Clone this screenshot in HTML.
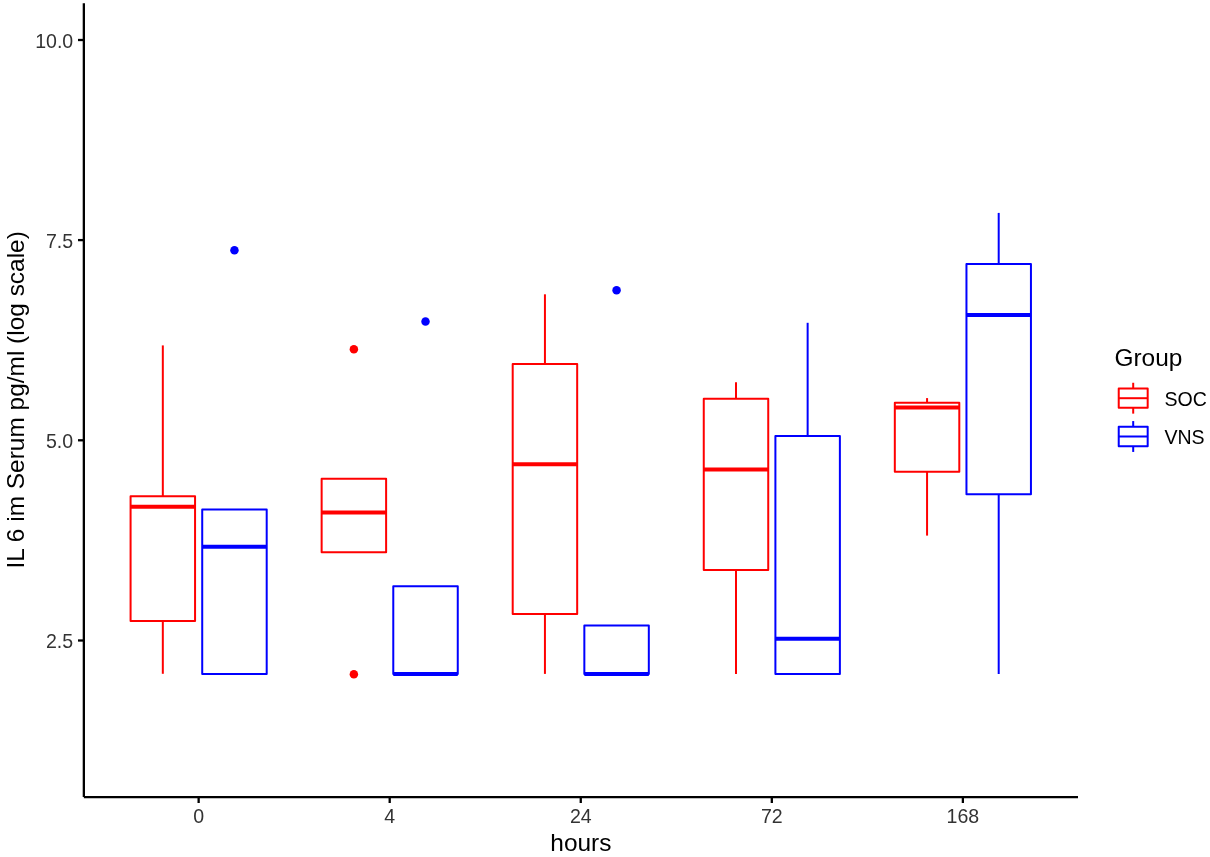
<!DOCTYPE html>
<html><head><meta charset="utf-8"><title>IL 6 boxplot</title>
<style>html,body{margin:0;padding:0;background:#fff;overflow:hidden;}svg{display:block;}text{font-family:"Liberation Sans",Arial,sans-serif;}</style></head><body>
<svg width="1210" height="857" viewBox="0 0 1210 857">
<rect x="0" y="0" width="1210" height="857" fill="#fff"/>
<g stroke="#FF0000" stroke-width="2" fill="none" stroke-linejoin="round"><line x1="162.82" y1="496.2" x2="162.82" y2="345.4"/><line x1="162.82" y1="621.1" x2="162.82" y2="673.8"/><rect x="130.58" y="496.2" width="64.48" height="124.9"/><line x1="130.58" y1="506.8" x2="195.06" y2="506.8" stroke-width="4"/></g>
<g stroke="#0000FF" stroke-width="2" fill="none" stroke-linejoin="round"><rect x="202.22" y="509.5" width="64.48" height="164.5"/><line x1="202.22" y1="546.8" x2="266.7" y2="546.8" stroke-width="4"/></g>
<circle cx="234.46" cy="250.2" r="4.25" fill="#0000FF"/>
<g stroke="#FF0000" stroke-width="2" fill="none" stroke-linejoin="round"><rect x="321.64" y="478.7" width="64.48" height="73.5"/><line x1="321.64" y1="512.5" x2="386.12" y2="512.5" stroke-width="4"/></g>
<circle cx="353.88" cy="349.3" r="4.25" fill="#FF0000"/>
<circle cx="353.88" cy="674.2" r="4.25" fill="#FF0000"/>
<g stroke="#0000FF" stroke-width="2" fill="none" stroke-linejoin="round"><rect x="393.28" y="586.3" width="64.48" height="87.7"/><line x1="393.28" y1="674" x2="457.76" y2="674" stroke-width="4"/></g>
<circle cx="425.52" cy="321.5" r="4.25" fill="#0000FF"/>
<g stroke="#FF0000" stroke-width="2" fill="none" stroke-linejoin="round"><line x1="544.94" y1="363.9" x2="544.94" y2="294.3"/><line x1="544.94" y1="614" x2="544.94" y2="673.9"/><rect x="512.7" y="363.9" width="64.48" height="250.1"/><line x1="512.7" y1="464.3" x2="577.18" y2="464.3" stroke-width="4"/></g>
<g stroke="#0000FF" stroke-width="2" fill="none" stroke-linejoin="round"><rect x="584.34" y="625.6" width="64.48" height="48.4"/><line x1="584.34" y1="674" x2="648.82" y2="674" stroke-width="4"/></g>
<circle cx="616.58" cy="290.3" r="4.25" fill="#0000FF"/>
<g stroke="#FF0000" stroke-width="2" fill="none" stroke-linejoin="round"><line x1="736" y1="398.8" x2="736" y2="382.3"/><line x1="736" y1="570.1" x2="736" y2="674"/><rect x="703.76" y="398.8" width="64.48" height="171.3"/><line x1="703.76" y1="469.6" x2="768.24" y2="469.6" stroke-width="4"/></g>
<g stroke="#0000FF" stroke-width="2" fill="none" stroke-linejoin="round"><line x1="807.64" y1="435.9" x2="807.64" y2="322.8"/><rect x="775.4" y="435.9" width="64.48" height="238"/><line x1="775.4" y1="638.8" x2="839.88" y2="638.8" stroke-width="4"/></g>
<g stroke="#FF0000" stroke-width="2" fill="none" stroke-linejoin="round"><line x1="927.06" y1="402.7" x2="927.06" y2="398.1"/><line x1="927.06" y1="471.8" x2="927.06" y2="535.6"/><rect x="894.82" y="402.7" width="64.48" height="69.1"/><line x1="894.82" y1="407.4" x2="959.3" y2="407.4" stroke-width="4"/></g>
<g stroke="#0000FF" stroke-width="2" fill="none" stroke-linejoin="round"><line x1="998.7" y1="264.1" x2="998.7" y2="212.9"/><line x1="998.7" y1="494.3" x2="998.7" y2="674"/><rect x="966.46" y="264.1" width="64.48" height="230.2"/><line x1="966.46" y1="315.1" x2="1030.94" y2="315.1" stroke-width="4"/></g>
<g stroke="#000" stroke-width="2.3" fill="none">
<line x1="83.85" y1="3.3" x2="83.85" y2="797.05"/>
<line x1="83.85" y1="797.05" x2="1078" y2="797.05"/>
<line x1="78" y1="40" x2="83.85" y2="40"/>
<line x1="78" y1="240.1" x2="83.85" y2="240.1"/>
<line x1="78" y1="440.3" x2="83.85" y2="440.3"/>
<line x1="78" y1="640.5" x2="83.85" y2="640.5"/>
<line x1="198.64" y1="797.05" x2="198.64" y2="803"/>
<line x1="389.7" y1="797.05" x2="389.7" y2="803"/>
<line x1="580.76" y1="797.05" x2="580.76" y2="803"/>
<line x1="771.82" y1="797.05" x2="771.82" y2="803"/>
<line x1="962.88" y1="797.05" x2="962.88" y2="803"/>
</g>
<g fill="#333333" font-size="19.56">
<text x="73.2" y="47.9" text-anchor="end">10.0</text>
<text x="73.2" y="248" text-anchor="end">7.5</text>
<text x="73.2" y="448.2" text-anchor="end">5.0</text>
<text x="73.2" y="648.4" text-anchor="end">2.5</text>
<text x="198.64" y="822.9" text-anchor="middle">0</text>
<text x="389.7" y="822.9" text-anchor="middle">4</text>
<text x="580.76" y="822.9" text-anchor="middle">24</text>
<text x="771.82" y="822.9" text-anchor="middle">72</text>
<text x="962.88" y="822.9" text-anchor="middle">168</text>
</g>
<text x="580.92" y="850.6" text-anchor="middle" font-size="24.44" fill="#000">hours</text>
<text transform="translate(24,399.8) rotate(-90)" text-anchor="middle" font-size="24.44" fill="#000">IL 6 im Serum pg/ml (log scale)</text>
<text x="1114.4" y="365.8" font-size="24.44" fill="#000">Group</text>
<g stroke="#FF0000" stroke-width="2" fill="none" stroke-linejoin="round"><line x1="1133.2" y1="388.55" x2="1133.2" y2="382.76"/><line x1="1133.2" y1="407.85" x2="1133.2" y2="413.64"/><rect x="1118.73" y="388.55" width="28.95" height="19.3"/><line x1="1118.73" y1="398.2" x2="1147.67" y2="398.2" stroke-width="2"/></g>
<text x="1164.4" y="405.5" font-size="19.56" fill="#000">SOC</text>
<g stroke="#0000FF" stroke-width="2" fill="none" stroke-linejoin="round"><line x1="1133.2" y1="426.85" x2="1133.2" y2="421.06"/><line x1="1133.2" y1="446.15" x2="1133.2" y2="451.94"/><rect x="1118.73" y="426.85" width="28.95" height="19.3"/><line x1="1118.73" y1="436.5" x2="1147.67" y2="436.5" stroke-width="2"/></g>
<text x="1164.4" y="443.8" font-size="19.56" fill="#000">VNS</text>
</svg>
</body></html>
